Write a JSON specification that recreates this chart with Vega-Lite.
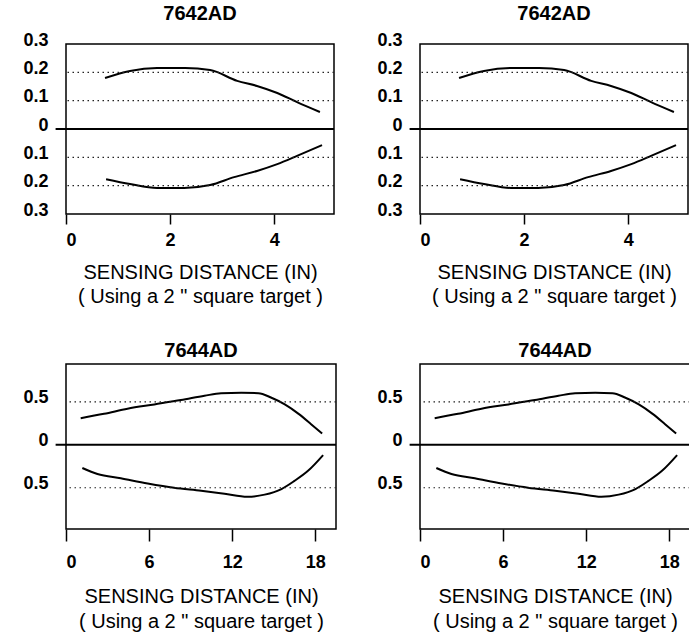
{
  "$schema": "https://vega.github.io/schema/vega-lite/v6.json",
  "padding": {"left": 22, "top": 3, "right": 0, "bottom": 0},
  "background": "white",
  "datasets": {
    "top": [
      {"side": "upper", "x": 0.75, "v": 0.18},
      {"side": "upper", "x": 1.23, "v": 0.205},
      {"side": "upper", "x": 1.75, "v": 0.215},
      {"side": "upper", "x": 2.29, "v": 0.215},
      {"side": "upper", "x": 2.77, "v": 0.208},
      {"side": "upper", "x": 3.29, "v": 0.17},
      {"side": "upper", "x": 3.67, "v": 0.152},
      {"side": "upper", "x": 4.06, "v": 0.127},
      {"side": "upper", "x": 4.44, "v": 0.095},
      {"side": "upper", "x": 4.88, "v": 0.06},
      {"side": "lower", "x": 0.77, "v": -0.177},
      {"side": "lower", "x": 1.23, "v": -0.194},
      {"side": "lower", "x": 1.75, "v": -0.208},
      {"side": "lower", "x": 2.27, "v": -0.208},
      {"side": "lower", "x": 2.77, "v": -0.198},
      {"side": "lower", "x": 3.23, "v": -0.17},
      {"side": "lower", "x": 3.67, "v": -0.148},
      {"side": "lower", "x": 4.06, "v": -0.124},
      {"side": "lower", "x": 4.44, "v": -0.095},
      {"side": "lower", "x": 4.92, "v": -0.057}
    ],
    "bottom": [
      {"side": "upper", "x": 1.06, "v": 0.31},
      {"side": "upper", "x": 2.75, "v": 0.36},
      {"side": "upper", "x": 4.44, "v": 0.42},
      {"side": "upper", "x": 6.38, "v": 0.47},
      {"side": "upper", "x": 8.3, "v": 0.52},
      {"side": "upper", "x": 10.0, "v": 0.57},
      {"side": "upper", "x": 11.2, "v": 0.6},
      {"side": "upper", "x": 12.66, "v": 0.605},
      {"side": "upper", "x": 13.9, "v": 0.6},
      {"side": "upper", "x": 14.8, "v": 0.55},
      {"side": "upper", "x": 15.8, "v": 0.47},
      {"side": "upper", "x": 16.8, "v": 0.36},
      {"side": "upper", "x": 17.7, "v": 0.24},
      {"side": "upper", "x": 18.5, "v": 0.13},
      {"side": "lower", "x": 1.18, "v": -0.27},
      {"side": "lower", "x": 2.27, "v": -0.34},
      {"side": "lower", "x": 3.96, "v": -0.39},
      {"side": "lower", "x": 5.9, "v": -0.45},
      {"side": "lower", "x": 7.8, "v": -0.5},
      {"side": "lower", "x": 9.76, "v": -0.535},
      {"side": "lower", "x": 11.45, "v": -0.57},
      {"side": "lower", "x": 13.1, "v": -0.605},
      {"side": "lower", "x": 14.35, "v": -0.58},
      {"side": "lower", "x": 15.56, "v": -0.515},
      {"side": "lower", "x": 16.5, "v": -0.42},
      {"side": "lower", "x": 17.5, "v": -0.3},
      {"side": "lower", "x": 18.57, "v": -0.12}
    ],
    "topgrid": [{"v": 0.2}, {"v": 0.1}, {"v": -0.1}, {"v": -0.2}],
    "botgrid": [{"v": 0.5}, {"v": -0.5}],
    "topzero": [{"x": -0.2, "x2": 5.15, "v": 0}],
    "botzero": [{"x": -0.75, "x2": 19.5, "v": 0}]
  },
  "concat": [
    {
      "width": 268, "height": 170,
      "title": {"text": "7642AD", "offset": 7},
      "layer": [
        {"data": {"name": "top"}, "mark": {"type": "line", "interpolate": "monotone", "color": "black", "strokeWidth": 2},
         "encoding": {
           "x": {"field": "x", "type": "quantitative", "scale": {"domain": [0, 5.15], "nice": false, "zero": false},
                 "axis": {"values": [0, 2, 4], "tickCount": 10, "format": "d", "grid": false, "domain": false, "tickSize": 10, "tickWidth": 1.5, "labelPadding": 7, "titlePadding": 13,
                          "title": ["SENSING DISTANCE (IN)", "( Using a 2 \" square target )"]}},
           "y": {"field": "v", "type": "quantitative", "scale": {"domain": [-0.3, 0.3], "nice": false, "zero": false},
                 "axis": {"values": [-0.3, -0.2, -0.1, 0, 0.1, 0.2, 0.3], "tickCount": 20, "grid": false, "domain": false, "ticks": false, "tickSize": 0, "labelPadding": 18, "labelOverlap": false, "labelOffset": -4, "title": null,
                          "labelExpr": "datum.value == 0 ? '0' : format(abs(datum.value), '.1f')"}},
           "detail": {"field": "side", "type": "nominal"}
         }},
        {"data": {"name": "topgrid"}, "mark": {"type": "rule", "strokeDash": [1.5, 3.5], "color": "#222", "strokeWidth": 1.2},
         "encoding": {"y": {"field": "v", "type": "quantitative", "scale": {"domain": [-0.3, 0.3], "nice": false, "zero": false}, "axis": {"labelOverlap": false, "tickCount": 20}}}},
        {"data": {"name": "topzero"}, "mark": {"type": "rule", "color": "black", "strokeWidth": 2},
         "encoding": {"x": {"field": "x", "type": "quantitative", "scale": {"domain": [0, 5.15], "nice": false, "zero": false}, "axis": {"tickCount": 10, "format": "d"}}, "x2": {"field": "x2"},
                      "y": {"field": "v", "type": "quantitative", "scale": {"domain": [-0.3, 0.3], "nice": false, "zero": false}, "axis": {"labelOverlap": false, "tickCount": 20}}}}
      ]
    },
    {
      "width": 268, "height": 170,
      "title": {"text": "7642AD", "offset": 7},
      "layer": [
        {"data": {"name": "top"}, "mark": {"type": "line", "interpolate": "monotone", "color": "black", "strokeWidth": 2},
         "encoding": {
           "x": {"field": "x", "type": "quantitative", "scale": {"domain": [0, 5.15], "nice": false, "zero": false},
                 "axis": {"values": [0, 2, 4], "tickCount": 10, "format": "d", "grid": false, "domain": false, "tickSize": 10, "tickWidth": 1.5, "labelPadding": 7, "titlePadding": 13,
                          "title": ["SENSING DISTANCE (IN)", "( Using a 2 \" square target )"]}},
           "y": {"field": "v", "type": "quantitative", "scale": {"domain": [-0.3, 0.3], "nice": false, "zero": false},
                 "axis": {"values": [-0.3, -0.2, -0.1, 0, 0.1, 0.2, 0.3], "tickCount": 20, "grid": false, "domain": false, "ticks": false, "tickSize": 0, "labelPadding": 18, "labelOverlap": false, "labelOffset": -4, "title": null,
                          "labelExpr": "datum.value == 0 ? '0' : format(abs(datum.value), '.1f')"}},
           "detail": {"field": "side", "type": "nominal"}
         }},
        {"data": {"name": "topgrid"}, "mark": {"type": "rule", "strokeDash": [1.5, 3.5], "color": "#222", "strokeWidth": 1.2},
         "encoding": {"y": {"field": "v", "type": "quantitative", "scale": {"domain": [-0.3, 0.3], "nice": false, "zero": false}, "axis": {"labelOverlap": false, "tickCount": 20}}}},
        {"data": {"name": "topzero"}, "mark": {"type": "rule", "color": "black", "strokeWidth": 2},
         "encoding": {"x": {"field": "x", "type": "quantitative", "scale": {"domain": [0, 5.15], "nice": false, "zero": false}, "axis": {"tickCount": 10, "format": "d"}}, "x2": {"field": "x2"},
                      "y": {"field": "v", "type": "quantitative", "scale": {"domain": [-0.3, 0.3], "nice": false, "zero": false}, "axis": {"labelOverlap": false, "tickCount": 20}}}}
      ]
    },
    {
      "width": 270, "height": 165,
      "title": {"text": "7644AD", "offset": 3},
      "layer": [
        {"data": {"name": "bottom"}, "mark": {"type": "line", "interpolate": "monotone", "color": "black", "strokeWidth": 2},
         "encoding": {
           "x": {"field": "x", "type": "quantitative", "scale": {"domain": [0, 19.5], "nice": false, "zero": false},
                 "axis": {"values": [0, 6, 12, 18], "tickCount": 10, "format": "d", "grid": false, "domain": false, "tickSize": 12, "tickWidth": 1.5, "labelPadding": 12, "titlePadding": 15, "titleLineHeight": 25,
                          "title": ["SENSING DISTANCE (IN)", "( Using a 2 \" square target )"]}},
           "y": {"field": "v", "type": "quantitative", "scale": {"domain": [-0.98, 0.94], "nice": false, "zero": false},
                 "axis": {"values": [-0.5, 0, 0.5], "tickCount": 20, "grid": false, "domain": false, "ticks": false, "tickSize": 0, "labelPadding": 18, "labelOverlap": false, "labelOffset": -4, "title": null,
                          "labelExpr": "datum.value == 0 ? '0' : format(abs(datum.value), '.1f')"}},
           "detail": {"field": "side", "type": "nominal"}
         }},
        {"data": {"name": "botgrid"}, "mark": {"type": "rule", "strokeDash": [1.5, 3.5], "color": "#222", "strokeWidth": 1.2},
         "encoding": {"y": {"field": "v", "type": "quantitative", "scale": {"domain": [-0.98, 0.94], "nice": false, "zero": false}, "axis": {"labelOverlap": false, "tickCount": 20}}}},
        {"data": {"name": "botzero"}, "mark": {"type": "rule", "color": "black", "strokeWidth": 2},
         "encoding": {"x": {"field": "x", "type": "quantitative", "scale": {"domain": [0, 19.5], "nice": false, "zero": false}, "axis": {"tickCount": 10, "format": "d"}}, "x2": {"field": "x2"},
                      "y": {"field": "v", "type": "quantitative", "scale": {"domain": [-0.98, 0.94], "nice": false, "zero": false}, "axis": {"labelOverlap": false, "tickCount": 20}}}}
      ]
    },
    {
      "width": 270, "height": 165,
      "title": {"text": "7644AD", "offset": 3},
      "layer": [
        {"data": {"name": "bottom"}, "mark": {"type": "line", "interpolate": "monotone", "color": "black", "strokeWidth": 2},
         "encoding": {
           "x": {"field": "x", "type": "quantitative", "scale": {"domain": [0, 19.5], "nice": false, "zero": false},
                 "axis": {"values": [0, 6, 12, 18], "tickCount": 10, "format": "d", "grid": false, "domain": false, "tickSize": 12, "tickWidth": 1.5, "labelPadding": 12, "titlePadding": 15, "titleLineHeight": 25,
                          "title": ["SENSING DISTANCE (IN)", "( Using a 2 \" square target )"]}},
           "y": {"field": "v", "type": "quantitative", "scale": {"domain": [-0.98, 0.94], "nice": false, "zero": false},
                 "axis": {"values": [-0.5, 0, 0.5], "tickCount": 20, "grid": false, "domain": false, "ticks": false, "tickSize": 0, "labelPadding": 18, "labelOverlap": false, "labelOffset": -4, "title": null,
                          "labelExpr": "datum.value == 0 ? '0' : format(abs(datum.value), '.1f')"}},
           "detail": {"field": "side", "type": "nominal"}
         }},
        {"data": {"name": "botgrid"}, "mark": {"type": "rule", "strokeDash": [1.5, 3.5], "color": "#222", "strokeWidth": 1.2},
         "encoding": {"y": {"field": "v", "type": "quantitative", "scale": {"domain": [-0.98, 0.94], "nice": false, "zero": false}, "axis": {"labelOverlap": false, "tickCount": 20}}}},
        {"data": {"name": "botzero"}, "mark": {"type": "rule", "color": "black", "strokeWidth": 2},
         "encoding": {"x": {"field": "x", "type": "quantitative", "scale": {"domain": [0, 19.5], "nice": false, "zero": false}, "axis": {"tickCount": 10, "format": "d"}}, "x2": {"field": "x2"},
                      "y": {"field": "v", "type": "quantitative", "scale": {"domain": [-0.98, 0.94], "nice": false, "zero": false}, "axis": {"labelOverlap": false, "tickCount": 20}}}}
      ]
    }
  ],
  "columns": 2,
  "spacing": {"column": 38, "row": 33},
  "resolve": {"scale": {"x": "independent", "y": "independent"}},
  "config": {
    "font": "Liberation Sans",
    "view": {"stroke": "black", "strokeWidth": 1.5},
    "axis": {"labelFont": "Liberation Sans", "labelFontSize": 18, "labelFontWeight": "bold", "labelColor": "black", "labelOverlap": false,
             "titleFont": "Liberation Sans", "titleFontSize": 20, "titleFontWeight": "normal", "titleColor": "black",
             "tickColor": "black", "titleLineHeight": 24},
    "title": {"font": "Liberation Sans", "fontSize": 20, "fontWeight": "bold", "color": "black", "anchor": "middle", "frame": "group"}
  }
}
